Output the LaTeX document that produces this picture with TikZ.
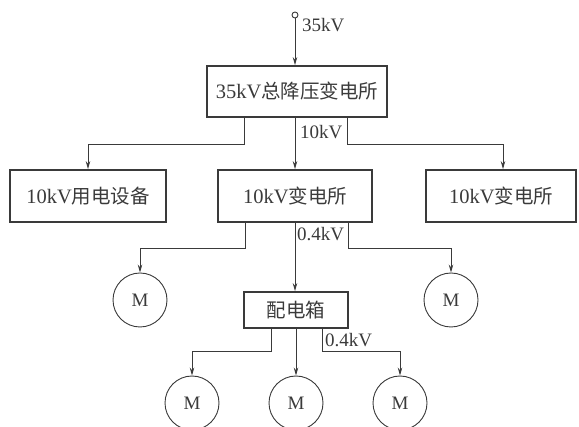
\documentclass[tikz,border=0pt]{standalone}
\usepackage{fontspec}
\setmainfont{Liberation Serif}
\newfontfamily\cjk{Noto Sans CJK SC}[Scale=0.95]
\usetikzlibrary{arrows.meta}
\definecolor{ink}{HTML}{3A3A3A}
\tikzset{
  x=1pt, y=-1pt,
  box/.style={draw=ink, line width=1.7pt, inner sep=0pt, align=center, text=ink, font=\fontsize{20.5}{22}\selectfont},
  motor/.style={draw=ink, line width=0.9pt, circle, minimum size=54pt, inner sep=0pt, text=ink, font=\fontsize{19}{20}\selectfont},
  wire/.style={draw=ink, line width=0.9pt, -{Stealth[length=8pt,width=4.5pt]}},
  lbl/.style={text=ink, font=\fontsize{19}{20}\selectfont, inner sep=0pt, anchor=west}
}
\begin{document}
\begin{tikzpicture}
\useasboundingbox (0,0) rectangle (579,427);
% nodes
\node[circle, draw=ink, line width=0.9pt, minimum size=6pt, inner sep=0pt] (src) at (295,15) {};
\node[box, minimum width=180pt, minimum height=51pt] (top) at (297,91.5) {35kV{\cjk 总降压变电所}};
\node[box, minimum width=156pt, minimum height=52pt] (equip) at (88,196) {10kV{\cjk 用电设备}};
\node[box, minimum width=154pt, minimum height=52pt] (sub1) at (295,196) {10kV{\cjk 变电所}};
\node[box, minimum width=150pt, minimum height=52pt] (sub2) at (501,196) {10kV{\cjk 变电所}};
\node[box, minimum width=104pt, minimum height=36pt] (dist) at (296,310) {{\cjk 配电箱}};
\node[motor] (m1) at (140,300) {M};
\node[motor] (m2) at (451,300) {M};
\node[motor] (m3) at (192,403) {M};
\node[motor] (m4) at (296,403) {M};
\node[motor] (m5) at (400,403) {M};
% labels
\node[lbl] (l35) at (302,25) {35kV};
\node[lbl] (l10) at (300,132) {10kV};
\node[lbl] (l04a) at (297,234) {0.4kV};
\node[lbl] (l04b) at (325,340) {0.4kV};
% connectors
\draw[wire] (src) -- (top.north -| src);
\draw[wire] (top.south -| 244,0) |- (88,144) -- (equip.north -| 88,0);
\draw[wire] (top.south -| 295,0) -- (sub1.north -| 295,0);
\draw[wire] (top.south -| 347,0) |- (503,144) -- (sub2.north -| 503,0);
\draw[wire] (sub1.south -| 245,0) |- (140,248) -- (m1);
\draw[wire] (sub1.south -| 295,0) -- (dist.north -| 295,0);
\draw[wire] (sub1.south -| 348,0) |- (451,248) -- (m2);
\draw[wire] (dist.south -| 271,0) |- (192,351) -- (m3);
\draw[wire] (dist.south -| 296,0) -- (m4);
\draw[wire] (dist.south -| 322,0) |- (400,351) -- (m5);
\end{tikzpicture}
\end{document}
